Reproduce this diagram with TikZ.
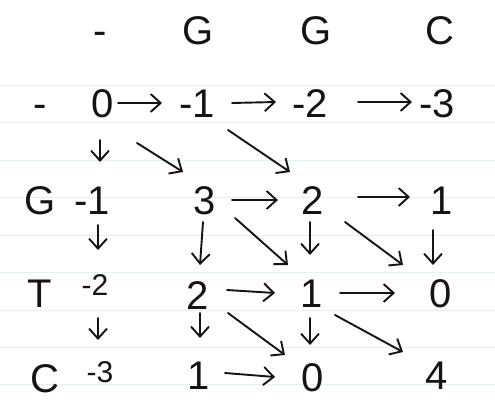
\documentclass[tikz,border=0pt]{standalone}
\usepackage{fontspec}
\setmainfont{Liberation Sans}
\usetikzlibrary{arrows.meta,calc}
\definecolor{ruled}{RGB}{222,242,247}
\definecolor{ink}{RGB}{20,20,20}
\tikzset{
  cell/.style={inner sep=0pt, text height=29pt, text depth=0pt, font=\fontsize{40}{40}\selectfont, text=ink},
  small/.style={cell, text height=21.5pt, font=\fontsize{30}{30}\selectfont},
  arr/.style={draw=ink, line width=1.9pt, line cap=round, line join=round, -{Straight Barb[length=10pt,width=18pt]}},
  rule/.style={draw=ruled, line width=0.8pt}
}
\newcommand\arw[6]{\draw[arr] ($(#1)+(#2,#3)$) -- ($(#4)+(#5,#6)$);}
\begin{document}
\begin{tikzpicture}[x=1pt,y=-1pt]
\useasboundingbox (0,0) rectangle (495,409);
\fill[white] (0,0) rectangle (495,409);
\foreach \yy in {85,122,160,197,235,272,310,347,384}
  \draw[rule] (0,\yy) -- (495,\yy);
% header
\node[cell] (h0) at (100,30) {-};
\node[cell] (h1) at (198,30) {G};
\node[cell] (h2) at (316,30) {G};
\node[cell] (h3) at (440,30) {C};
% row labels
\node[cell] (r0) at (40,103) {-};
\node[cell] (r1) at (40,200) {G};
\node[cell] (r2) at (40,293) {T};
\node[cell] (r3) at (45,378) {C};
% cells
\node[cell] (c00) at (103,103) {0};
\node[cell] (c01) at (197,103) {-1};
\node[cell] (c02) at (310,103) {-2};
\node[cell] (c03) at (437,103) {-3};
\node[cell] (c10) at (92,200) {-1};
\node[cell] (c11) at (205,200) {3};
\node[cell] (c12) at (313,200) {2};
\node[cell] (c13) at (442,200) {1};
\node[small] (c20) at (95,285) {-2};
\node[cell] (c21) at (198,295) {2};
\node[cell] (c22) at (312,293) {1};
\node[cell] (c23) at (441,293) {0};
\node[small] (c30) at (100,372) {-3};
\node[cell] (c31) at (199,375) {1};
\node[cell] (c32) at (313,377) {0};
\node[cell] (c33) at (437,375) {4};
% horizontal
\arw{c00}{15}{0}{c01}{-35}{0}
\arw{c01}{35}{0}{c02}{-34}{-1}
\arw{c02}{48}{-1}{c03}{-25}{-1}
\arw{c11}{27}{0}{c12}{-35}{0}
\arw{c12}{45}{-3}{c13}{-32}{-3}
\arw{c21}{29}{-5}{c22}{-37}{0}
\arw{c22}{28}{0}{c23}{-46}{0}
\arw{c31}{26}{-2}{c32}{-38}{0}
% vertical
\arw{c00}{-3}{37}{c10}{8}{-38}
\arw{c10}{6}{25}{c20}{3}{-35}
\arw{c20}{3}{33}{c30}{-2}{-32}
\arw{c11}{-2}{22}{c21}{2}{-30}
\arw{c12}{-3}{22}{c22}{-2}{-38}
\arw{c13}{-9}{30}{c23}{-8}{-28}
\arw{c21}{2}{18}{c31}{1}{-37}
\arw{c22}{-2}{25}{c32}{-3}{-32}
% diagonal
\arw{c00}{34}{40}{c11}{-22}{-28}
\arw{c01}{31}{27}{c12}{-23}{-28}
\arw{c11}{30}{18}{c22}{-24}{-28}
\arw{c12}{32}{22}{c23}{-38}{-28}
\arw{c21}{30}{18}{c32}{-28}{-22}
\arw{c22}{23}{22}{c33}{-34}{-23}
\end{tikzpicture}
\end{document}
